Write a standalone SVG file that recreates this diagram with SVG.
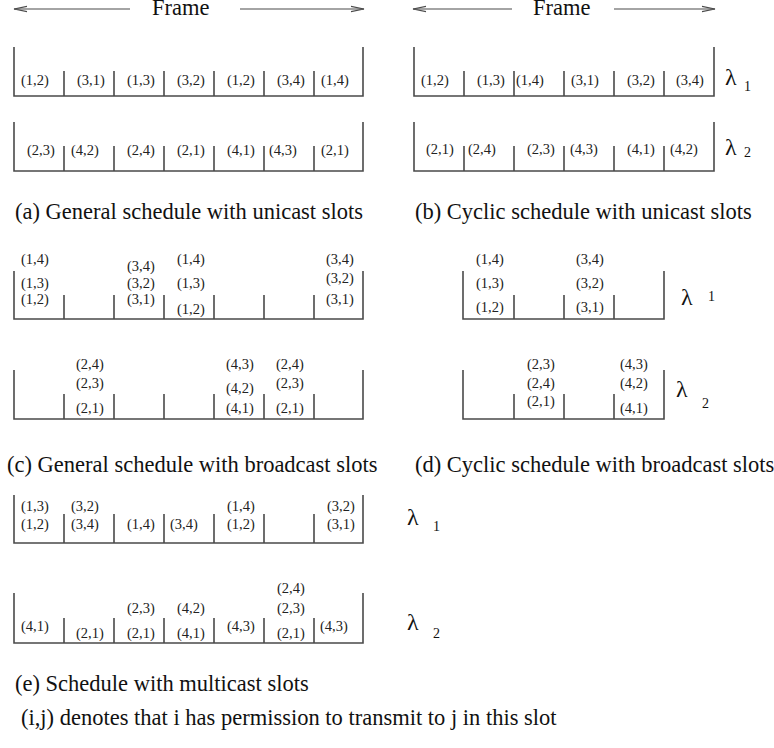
<svg xmlns="http://www.w3.org/2000/svg" width="774" height="748" viewBox="0 0 774 748">
  <style>
    .bg { fill: #ffffff; }
    .box { fill: none; stroke: #4a4a4a; stroke-width: 1.6; }
    .conn { fill: none; stroke: #4a4a4a; stroke-width: 1.2; }
    .lbl { font-family: "Liberation Serif", "Times New Roman", serif; font-size: 14.5px; fill: #222; }
    .cap { font-family: "Liberation Serif", "Times New Roman", serif; font-size: 22.5px; fill: #111; }
    .lam { font-family: "Liberation Serif", "Times New Roman", serif; font-size: 24px; fill: #111; }
    .sub { font-family: "Liberation Serif", "Times New Roman", serif; font-size: 14px; fill: #111; }
  </style>
  <defs>
    <marker id="barb" viewBox="-14 -4 15 8" refX="0" refY="0" markerWidth="15" markerHeight="8" markerUnits="userSpaceOnUse" orient="auto">
      <path d="M-13,-2.6 L0,0 L-13,2.6" fill="none" stroke="#4a4a4a" stroke-width="1.1"/>
    </marker>
  </defs>
  <rect class="bg" x="0" y="0" width="774" height="748"/>

  <!-- frame length arrows -->
  <g id="connectors">
    <path class="conn" d="M130 9 H14" marker-end="url(#barb)"/>
    <path class="conn" d="M240 9 H364" marker-end="url(#barb)"/>
    <path class="conn" d="M512 9 H413" marker-end="url(#barb)"/>
    <path class="conn" d="M614 9 H715" marker-end="url(#barb)"/>
  </g>

  <g id="frame-labels">
    <text class="cap" x="152" y="15">Frame</text>
    <text class="cap" x="533" y="15">Frame</text>
  </g>

  <!-- (a) general schedule, unicast -->
  <g id="a-row1">
    <path class="box" d="M14 47 V96 H363 V47 M64 71 V96 M114 71 V96 M164 71 V96 M214 71 V96 M264 71 V96 M314 71 V96"/>
    <text class="lbl" x="21" y="85">(1,2)</text>
    <text class="lbl" x="77" y="85">(3,1)</text>
    <text class="lbl" x="127" y="85">(1,3)</text>
    <text class="lbl" x="177" y="85">(3,2)</text>
    <text class="lbl" x="227" y="85">(1,2)</text>
    <text class="lbl" x="277" y="85">(3,4)</text>
    <text class="lbl" x="321" y="85">(1,4)</text>
  </g>
  <g id="a-row2">
    <path class="box" d="M14 122 V171 H363 V122 M64 146 V171 M114 146 V171 M164 146 V171 M214 146 V171 M264 146 V171 M314 146 V171"/>
    <text class="lbl" x="27" y="155">(2,3)</text>
    <text class="lbl" x="71" y="155">(4,2)</text>
    <text class="lbl" x="127" y="155">(2,4)</text>
    <text class="lbl" x="177" y="155">(2,1)</text>
    <text class="lbl" x="227" y="155">(4,1)</text>
    <text class="lbl" x="269" y="155">(4,3)</text>
    <text class="lbl" x="321" y="155">(2,1)</text>
  </g>
  <text id="cap-a" class="cap" x="15" y="219">(a) General schedule with unicast slots</text>

  <!-- (b) cyclic schedule, unicast -->
  <g id="b-row1">
    <path class="box" d="M414 47 V96 H714 V47 M464 71 V96 M514 71 V96 M564 71 V96 M614 71 V96 M664 71 V96"/>
    <text class="lbl" x="421" y="85">(1,2)</text>
    <text class="lbl" x="477" y="85">(1,3)</text>
    <text class="lbl" x="516" y="85">(1,4)</text>
    <text class="lbl" x="571" y="85">(3,1)</text>
    <text class="lbl" x="627" y="85">(3,2)</text>
    <text class="lbl" x="676" y="85">(3,4)</text>
    <text class="lam" x="725" y="85">λ</text>
    <text class="sub" x="744" y="91">1</text>
  </g>
  <g id="b-row2">
    <path class="box" d="M414 122 V171 H714 V122 M464 146 V171 M514 146 V171 M564 146 V171 M614 146 V171 M664 146 V171"/>
    <text class="lbl" x="426" y="154">(2,1)</text>
    <text class="lbl" x="468" y="154">(2,4)</text>
    <text class="lbl" x="527" y="154">(2,3)</text>
    <text class="lbl" x="570" y="154">(4,3)</text>
    <text class="lbl" x="627" y="154">(4,1)</text>
    <text class="lbl" x="670" y="154">(4,2)</text>
    <text class="lam" x="725" y="155">λ</text>
    <text class="sub" x="744" y="157">2</text>
  </g>
  <text id="cap-b" class="cap" x="415" y="219">(b) Cyclic schedule with unicast slots</text>

  <!-- (c) general schedule, broadcast -->
  <g id="c-row1">
    <path class="box" d="M14 271 V319 H363 V271 M64 295 V319 M114 295 V319 M164 295 V319 M214 295 V319 M264 295 V319 M314 295 V319"/>
    <text class="lbl" x="21" y="264">(1,4)</text>
    <text class="lbl" x="21" y="287.5">(1,3)</text>
    <text class="lbl" x="21" y="304">(1,2)</text>
    <text class="lbl" x="127" y="271">(3,4)</text>
    <text class="lbl" x="127" y="287.5">(3,2)</text>
    <text class="lbl" x="127" y="304">(3,1)</text>
    <text class="lbl" x="177" y="264">(1,4)</text>
    <text class="lbl" x="177" y="287.5">(1,3)</text>
    <text class="lbl" x="177" y="313.5">(1,2)</text>
    <text class="lbl" x="326" y="264">(3,4)</text>
    <text class="lbl" x="326" y="282.5">(3,2)</text>
    <text class="lbl" x="326" y="304">(3,1)</text>
  </g>
  <g id="c-row2">
    <path class="box" d="M14 370 V419 H363 V370 M64 394 V419 M114 394 V419 M164 394 V419 M214 394 V419 M264 394 V419 M314 394 V419"/>
    <text class="lbl" x="76" y="369">(2,4)</text>
    <text class="lbl" x="76" y="387.5">(2,3)</text>
    <text class="lbl" x="76" y="412.5">(2,1)</text>
    <text class="lbl" x="226" y="369">(4,3)</text>
    <text class="lbl" x="226" y="392.5">(4,2)</text>
    <text class="lbl" x="226" y="412.5">(4,1)</text>
    <text class="lbl" x="276" y="369">(2,4)</text>
    <text class="lbl" x="276" y="387.5">(2,3)</text>
    <text class="lbl" x="276" y="412.5">(2,1)</text>
  </g>
  <text id="cap-c" class="cap" x="7" y="472">(c) General schedule with broadcast slots</text>

  <!-- (d) cyclic schedule, broadcast -->
  <g id="d-row1">
    <path class="box" d="M463 271 V319 H664 V271 M514 295 V319 M564 295 V319 M614 295 V319"/>
    <text class="lbl" x="476" y="264">(1,4)</text>
    <text class="lbl" x="476" y="287.5">(1,3)</text>
    <text class="lbl" x="476" y="311.5">(1,2)</text>
    <text class="lbl" x="576" y="264">(3,4)</text>
    <text class="lbl" x="576" y="287.5">(3,2)</text>
    <text class="lbl" x="576" y="311.5">(3,1)</text>
    <text class="lam" x="681" y="305">λ</text>
    <text class="sub" x="708" y="301">1</text>
  </g>
  <g id="d-row2">
    <path class="box" d="M463 370 V419 H664 V370 M514 394 V419 M564 394 V419 M614 394 V419"/>
    <text class="lbl" x="527" y="369">(2,3)</text>
    <text class="lbl" x="527" y="387.5">(2,4)</text>
    <text class="lbl" x="527" y="405.5">(2,1)</text>
    <text class="lbl" x="620" y="369">(4,3)</text>
    <text class="lbl" x="620" y="387.5">(4,2)</text>
    <text class="lbl" x="620" y="412.5">(4,1)</text>
    <text class="lam" x="676" y="397">λ</text>
    <text class="sub" x="702" y="408">2</text>
  </g>
  <text id="cap-d" class="cap" x="415" y="472">(d) Cyclic schedule with broadcast slots</text>

  <!-- (e) multicast -->
  <g id="e-row1">
    <path class="box" d="M14 495 V543 H363 V495 M64 514 V543 M114 514 V543 M164 514 V543 M214 514 V543 M264 514 V543 M314 514 V543"/>
    <text class="lbl" x="21" y="511">(1,3)</text>
    <text class="lbl" x="21" y="529">(1,2)</text>
    <text class="lbl" x="71" y="511">(3,2)</text>
    <text class="lbl" x="71" y="529">(3,4)</text>
    <text class="lbl" x="127" y="529">(1,4)</text>
    <text class="lbl" x="170" y="529">(3,4)</text>
    <text class="lbl" x="227" y="511">(1,4)</text>
    <text class="lbl" x="227" y="529">(1,2)</text>
    <text class="lbl" x="327" y="511">(3,2)</text>
    <text class="lbl" x="327" y="529">(3,1)</text>
    <text class="lam" x="407" y="525">λ</text>
    <text class="sub" x="433" y="531">1</text>
  </g>
  <g id="e-row2">
    <path class="box" d="M14 593 V643 H363 V593 M64 618 V643 M114 618 V643 M164 618 V643 M214 618 V643 M264 618 V643 M314 618 V643"/>
    <text class="lbl" x="21" y="631">(4,1)</text>
    <text class="lbl" x="76" y="637.5">(2,1)</text>
    <text class="lbl" x="127" y="612.5">(2,3)</text>
    <text class="lbl" x="127" y="637.5">(2,1)</text>
    <text class="lbl" x="177" y="612.5">(4,2)</text>
    <text class="lbl" x="177" y="637.5">(4,1)</text>
    <text class="lbl" x="227" y="631">(4,3)</text>
    <text class="lbl" x="277" y="592.5">(2,4)</text>
    <text class="lbl" x="277" y="612.5">(2,3)</text>
    <text class="lbl" x="277" y="637.5">(2,1)</text>
    <text class="lbl" x="320" y="631">(4,3)</text>
    <text class="lam" x="407" y="630">λ</text>
    <text class="sub" x="433" y="638">2</text>
  </g>
  <text id="cap-e" class="cap" x="15" y="691">(e) Schedule with multicast slots</text>

  <text id="legend" class="cap" x="21" y="725">(i,j) denotes that i has permission to transmit to j in this slot</text>
</svg>
